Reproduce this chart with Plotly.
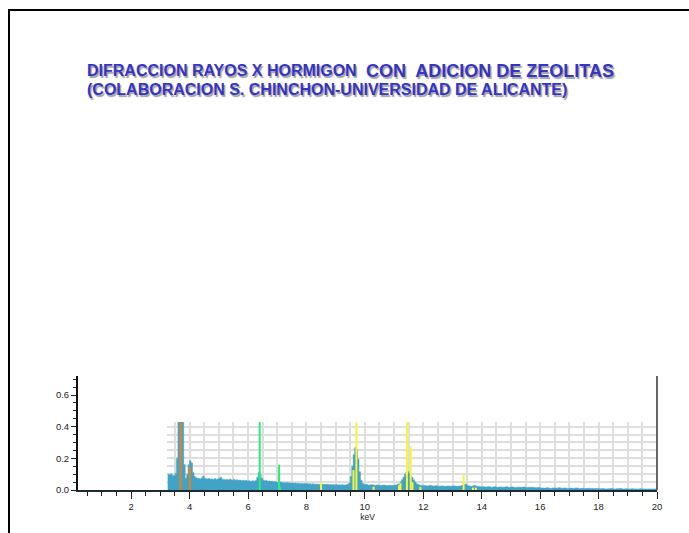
import numpy as np
import plotly.graph_objects as go

# ---------------- data ----------------
# spectrum segments: (start keV, step keV, counts)
seg_a_start, seg_a_step = 3.25, 0.05
seg_a = [0.100, 0.095, 0.102, 0.092, 0.090, 0.105, 0.200, 0.600, 0.600, 0.600,
         0.450, 0.160, 0.075, 0.100, 0.160, 0.185, 0.170, 0.110, 0.085, 0.078]
seg_b_start, seg_b_step = 4.25, 0.05
seg_b = [0.074, 0.072, 0.070, 0.078, 0.088, 0.074, 0.071, 0.069, 0.073, 0.068,
         0.070, 0.066, 0.072, 0.067, 0.070, 0.074, 0.080, 0.068, 0.066, 0.064,
         0.067, 0.063, 0.068, 0.065, 0.062, 0.066, 0.061, 0.064, 0.060, 0.063,
         0.059, 0.062, 0.058, 0.061, 0.057, 0.059, 0.056, 0.055, 0.058, 0.056]
seg_c_start, seg_c_step = 6.25, 0.05
seg_c = [0.060, 0.080, 0.110, 0.100, 0.075, 0.062, 0.058, 0.060, 0.055, 0.057,
         0.053, 0.055, 0.051, 0.054, 0.050, 0.048, 0.052, 0.050, 0.046, 0.048]
seg_d_start, seg_d_step = 7.25, 0.05
seg_d = [0.045, 0.047, 0.044, 0.046, 0.043, 0.045, 0.042, 0.044, 0.041, 0.043,
         0.040, 0.042, 0.040, 0.041, 0.039, 0.041, 0.038, 0.040, 0.037, 0.039,
         0.036, 0.038, 0.036, 0.037, 0.035, 0.038, 0.035, 0.036, 0.034, 0.036,
         0.033, 0.035, 0.033, 0.034, 0.032, 0.034, 0.032, 0.033, 0.031, 0.033,
         0.031, 0.032, 0.033, 0.036]
seg_e_start, seg_e_step = 9.45, 0.05
seg_e = [0.045, 0.085, 0.150, 0.225, 0.268, 0.255, 0.195, 0.115, 0.062, 0.042, 0.036]
seg_f_start, seg_f_step = 10.0, 0.1
seg_f = [0.034, 0.031, 0.033, 0.030, 0.032, 0.029, 0.031, 0.028, 0.030, 0.029,
         0.031, 0.034]
seg_g_start, seg_g_step = 11.15, 0.05
seg_g = [0.040, 0.050, 0.065, 0.080, 0.098, 0.110, 0.116, 0.108, 0.094, 0.080,
         0.064, 0.050, 0.040, 0.034, 0.031, 0.029]
seg_h_start, seg_h_step = 12.0, 0.1
seg_h = [0.028, 0.026, 0.029, 0.025, 0.027, 0.024, 0.026, 0.023, 0.025, 0.024,
         0.026, 0.023, 0.025, 0.030, 0.036, 0.027, 0.023, 0.028, 0.024, 0.021,
         0.020, 0.019, 0.021, 0.018, 0.020, 0.017, 0.019, 0.018, 0.020, 0.017,
         0.019, 0.016, 0.018, 0.017, 0.019, 0.016, 0.018, 0.017, 0.015, 0.016,
         0.013, 0.012, 0.014, 0.011, 0.013, 0.012, 0.014, 0.011, 0.013, 0.010,
         0.012, 0.011, 0.013, 0.010, 0.011, 0.009, 0.011, 0.010, 0.009, 0.010,
         0.008, 0.009, 0.007, 0.008, 0.009, 0.007, 0.008, 0.009, 0.007, 0.008,
         0.006, 0.008, 0.007, 0.006, 0.008, 0.007, 0.006, 0.007, 0.006, 0.007,
         0.006]

# element marker lines (keV, relative height)
orange_pos = [3.69, 4.01]
orange_h = [0.60, 0.147]
green_pos = [6.40, 7.06, 7.10]
green_h = [0.60, 0.158, 0.020]
yellow_pos = [8.50, 9.61, 9.71, 10.30, 11.17, 11.22, 11.44, 11.57, 11.63, 11.90,
              13.38, 13.70, 13.80]
yellow_h = [0.052, 0.126, 0.60, 0.020, 0.030, 0.045, 0.60, 0.274, 0.050, 0.020,
            0.095, 0.015, 0.015]

x_ticks = [2, 4, 6, 8, 10, 12, 14, 16, 18, 20]
y_ticks = [0.0, 0.2, 0.4, 0.6]

title_a = "DIFRACCION RAYOS X HORMIGON"
title_b = "CON  ADICION DE ZEOLITAS"
title_c = "(COLABORACION S. CHINCHON-UNIVERSIDAD DE ALICANTE)"
x_label = "keV"

# ---------------- build ----------------
segments = [(seg_a_start, seg_a_step, seg_a), (seg_b_start, seg_b_step, seg_b),
            (seg_c_start, seg_c_step, seg_c), (seg_d_start, seg_d_step, seg_d),
            (seg_e_start, seg_e_step, seg_e), (seg_f_start, seg_f_step, seg_f),
            (seg_g_start, seg_g_step, seg_g), (seg_h_start, seg_h_step, seg_h)]
energy, counts = [], []
for s, st, vals in segments:
    energy += [round(s + i * st, 4) for i in range(len(vals))]
    counts += vals

W, H = 689, 533
ML, MR, MT, MB = 78, 32, 376, 43
X0, X1 = 0.18, 20.0
Y0, Y1 = 0.0, 0.72
GRID_X0, GRID_Y1 = 3.23, 0.43
pw, ph = W - ML - MR, H - MT - MB


def px(xp):
    return (xp - ML) / pw


def py(yp):
    return (H - MB - yp) / ph


def seglines(pos, h):
    xs, ys = [], []
    for p, v in zip(pos, h):
        xs += [p, p, None]
        ys += [0, v, None]
    return xs, ys


fig = go.Figure()
fig.add_trace(go.Scatter(x=energy, y=counts, mode="lines", line_shape="hv",
                         fill="tozeroy", fillcolor="#42a3c7",
                         line=dict(color="#42a3c7", width=0.5),
                         xaxis="x", yaxis="y", hoverinfo="skip", showlegend=False))
for pos, h, col in [(yellow_pos, yellow_h, "#f6f53a"),
                    (green_pos, green_h, "#27f07a"),
                    (orange_pos, orange_h, "#f07e12")]:
    xs, ys = seglines(pos, h)
    fig.add_trace(go.Scatter(x=xs, y=ys, mode="lines", line=dict(color=col, width=2),
                             xaxis="x", yaxis="y", hoverinfo="skip", showlegend=False))
# frame axes
fig.add_trace(go.Scatter(x=[None], y=[None], xaxis="x2", yaxis="y2",
                         showlegend=False, hoverinfo="skip"))

grid_dom_x0 = (GRID_X0 - X0) / (X1 - X0)
fig.update_layout(
    width=W, height=H, autosize=False,
    margin=dict(l=ML, r=MR, t=MT, b=MB, pad=0),
    paper_bgcolor="white", plot_bgcolor="rgba(0,0,0,0)",
    font=dict(family="Liberation Sans, Arial, sans-serif", color="#222"),
    xaxis=dict(domain=[grid_dom_x0, 1], range=[GRID_X0, X1], anchor="y",
               showgrid=True, gridcolor="#dedede", gridwidth=1.5, dtick=0.5, tick0=0,
               showticklabels=False, ticks="", zeroline=False, showline=False),
    yaxis=dict(domain=[0, GRID_Y1 / Y1], range=[0, GRID_Y1], anchor="x",
               showgrid=True, gridcolor="#dedede", gridwidth=1.5, dtick=0.05, tick0=0,
               showticklabels=False, ticks="", zeroline=False, showline=False),
    xaxis2=dict(domain=[0, 1], range=[X0, X1], anchor="y2",
                tickmode="array", tickvals=x_ticks, ticktext=[str(v) for v in x_ticks],
                ticks="outside", ticklen=7, tickwidth=1.2, tickcolor="#222",
                minor=dict(dtick=0.5, tick0=0, ticks="outside", ticklen=4,
                           tickwidth=1, tickcolor="#222"),
                showline=True, linecolor="#1b2a33", linewidth=2,
                showgrid=False, zeroline=False, tickfont=dict(size=9.5, color="#222"),
                title=dict(text=x_label, font=dict(size=8.5, color="#222"), standoff=3)),
    yaxis2=dict(domain=[0, 1], range=[Y0, Y1], anchor="x2",
                tickmode="array", tickvals=y_ticks, ticktext=["%.1f" % v for v in y_ticks],
                ticks="outside", ticklen=5, tickwidth=1.2, tickcolor="#222",
                minor=dict(dtick=0.05, tick0=0, ticks="outside", ticklen=3,
                           tickwidth=1, tickcolor="#222"),
                showline=True, linecolor="#111", linewidth=2,
                showgrid=False, zeroline=False, tickfont=dict(size=9.5, color="#222")),
)

# right boundary line and slide border
fig.add_shape(type="line", xref="paper", yref="paper", x0=1, x1=1, y0=0, y1=1,
              line=dict(color="#666", width=2))
fig.add_shape(type="rect", xref="paper", yref="paper",
              x0=px(9), x1=px(720), y0=py(10), y1=py(560),
              line=dict(color="black", width=2), fillcolor="rgba(0,0,0,0)")

tcol = "#3434c6"
shadow = "1.5px 1.5px 1px #a0a0a0"
fig.add_annotation(text=title_a, xref="paper", yref="paper", x=px(85), y=py(70.5),
                   xanchor="left", yanchor="middle", showarrow=False,
                   font=dict(family="Liberation Sans, Arial", size=16,
                             color=tcol, weight="bold", shadow=shadow))
fig.add_annotation(text=title_b, xref="paper", yref="paper", x=px(364), y=py(70.5),
                   xanchor="left", yanchor="middle", showarrow=False,
                   font=dict(family="Liberation Sans, Arial", size=18, color=tcol,
                             weight="bold", shadow=shadow))
fig.add_annotation(text=title_c, xref="paper", yref="paper", x=px(85), y=py(89.5),
                   xanchor="left", yanchor="middle", showarrow=False,
                   font=dict(family="Liberation Sans, Arial", size=16,
                             color=tcol, weight="bold", shadow=shadow))

fig.write_html("out.html", post_script="document.body.style.margin='0';",
               config={"displayModeBar": False})
